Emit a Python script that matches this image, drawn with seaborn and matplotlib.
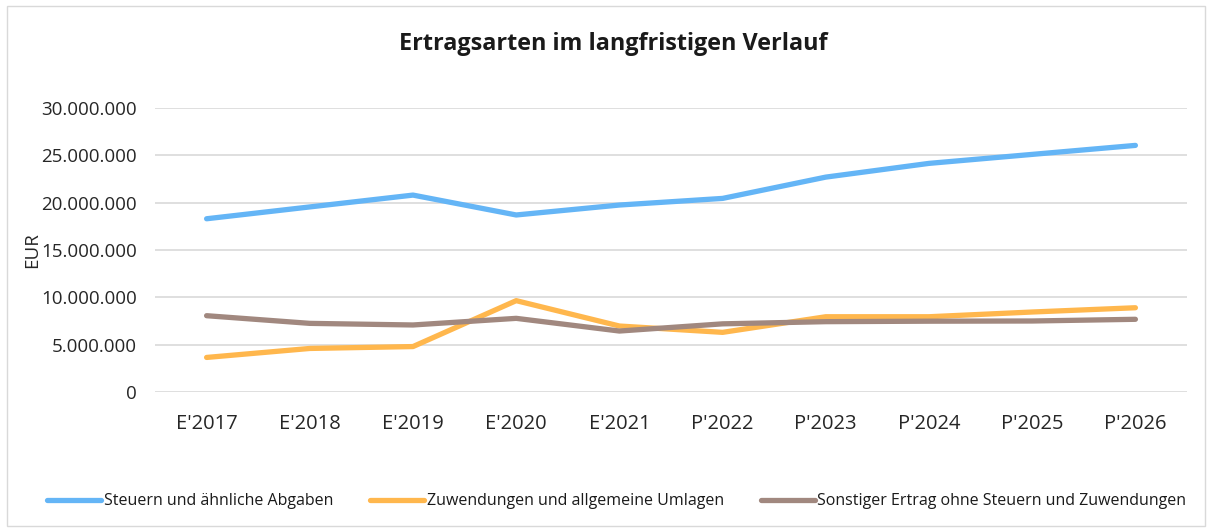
import matplotlib
matplotlib.use("Agg")
import matplotlib.pyplot as plt
import seaborn as sns
import pandas as pd
from matplotlib.patches import Rectangle
from matplotlib.lines import Line2D
from matplotlib.ticker import FuncFormatter, MultipleLocator

categories = ["E'2017", "E'2018", "E'2019", "E'2020", "E'2021",
              "P'2022", "P'2023", "P'2024", "P'2025", "P'2026"]
steuern = [18.3e6, 19.55e6, 20.8e6, 18.7e6, 19.75e6, 20.45e6, 22.7e6, 24.15e6, 25.1e6, 26.05e6]
zuwendungen = [3.65e6, 4.6e6, 4.8e6, 9.65e6, 6.97e6, 6.3e6, 7.95e6, 7.95e6, 8.45e6, 8.9e6]
sonstige = [8.06e6, 7.25e6, 7.08e6, 7.78e6, 6.44e6, 7.2e6, 7.43e6, 7.48e6, 7.5e6, 7.68e6]

series_names = ["Steuern und ähnliche Abgaben",
                "Zuwendungen und allgemeine Umlagen",
                "Sonstiger Ertrag ohne Steuern und Zuwendungen"]
colors = ["#64b5f6", "#ffb74d", "#a1887f"]

df = pd.DataFrame({
    "Kategorie": categories * 3,
    "pos": list(range(len(categories))) * 3,
    "Wert": steuern + zuwendungen + sonstige,
    "Serie": [series_names[0]] * 10 + [series_names[1]] * 10 + [series_names[2]] * 10,
})

sns.set_theme(style="white")
plt.rcParams['font.family'] = ['Open Sans', 'DejaVu Sans']

fig = plt.figure(figsize=(12.14, 5.32), dpi=100)
ax = fig.add_axes([155/1214, 1 - 392/532, (1187-155)/1214, (392-108)/532])

sns.lineplot(data=df, x="pos", y="Wert", hue="Serie", palette=colors,
             linewidth=3.8, ax=ax, legend=False, solid_capstyle="round")

ax.set_xlim(-0.5, len(categories) - 0.5)
ax.set_ylim(0, 30e6)
ax.yaxis.set_major_locator(MultipleLocator(5e6))
ax.yaxis.set_major_formatter(FuncFormatter(lambda v, p: f"{int(v):,}".replace(",", ".")))
ax.set_xticks(range(len(categories)))
ax.set_xticklabels(categories)
ax.grid(axis="y", color="#d9d9d9", linewidth=1.2)
ax.set_axisbelow(True)
for s in ax.spines.values():
    s.set_visible(False)
ax.tick_params(axis="y", length=0, labelsize=13.5, colors="#262626", pad=13)
ax.tick_params(axis="x", length=0, labelsize=14.5, colors="#262626", pad=16)
ax.set_xlabel("")
ax.set_ylabel("EUR", fontsize=13.5, color="#262626", labelpad=0)

fig.suptitle("Ertragsarten im langfristigen Verlauf", x=0.505, y=0.94,
             fontsize=16.8, fontweight="bold", color="#1a1a1a")

handles = [Line2D([0], [0], color=c, linewidth=3.8, solid_capstyle="round") for c in colors]
fig.legend(handles, series_names, loc="center", bbox_to_anchor=(0.508, 0.058), ncol=3,
           frameon=False, handlelength=3.4, handletextpad=0.15,
           columnspacing=2.3, labelcolor="#1a1a1a",
           prop={'family': ['Open Sans', 'DejaVu Sans'], 'size': 11.5})

fig.patches.append(Rectangle((7/1214, 6/532), 1198/1214, 520/532, transform=fig.transFigure,
                             fill=False, edgecolor="#d9d9d9", linewidth=1))

fig.savefig("out.png", dpi=100, facecolor="white")
